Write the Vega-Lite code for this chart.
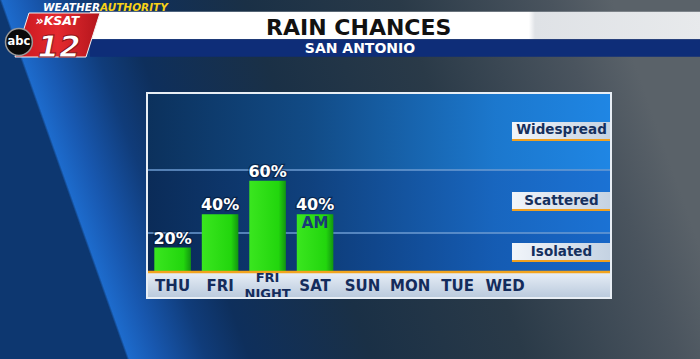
{
  "$schema": "https://vega.github.io/schema/vega-lite/v6.json",
  "width": 464,
  "height": 205,
  "autosize": {"type": "none"},
  "padding": {"left": 147, "top": 93, "right": 89, "bottom": 61},
  "background": "#13304f",
  "config": {"view": {"stroke": null}, "text": {"font": "DejaVu Sans"}},
  "datasets": {
    "days": [
      {"day": "THU", "chance": 0.2},
      {"day": "FRI", "chance": 0.4},
      {"day": "FRI NIGHT", "chance": 0.6},
      {"day": "SAT", "chance": 0.4, "note": "AM"},
      {"day": "SUN"},
      {"day": "MON"},
      {"day": "TUE"},
      {"day": "WED"}
    ],
    "bands": [
      {"band": "Isolated", "lo": 0.054, "hi": 0.2875},
      {"band": "Scattered", "lo": 0.2875, "hi": 0.665},
      {"band": "Widespread", "lo": 0.665, "hi": 1.1262}
    ],
    "one": [{"n": 1}]
  },
  "resolve": {"scale": {"x": "independent"}},
  "layer": [
    {
      "data": {"name": "one"},
      "layer": [
        {
          "mark": {"type": "rect", "fill": {"gradient": "linear", "x1": 0, "y1": 0, "x2": 0.841, "y2": -0.154, "stops": [
            {"offset": 0, "color": "#0d3770"},
            {"offset": 0.004, "color": "#1d6bcc"},
            {"offset": 0.05, "color": "#1858b0"},
            {"offset": 0.13, "color": "#103c7a"},
            {"offset": 0.2, "color": "#0e2f5c"},
            {"offset": 0.4, "color": "#1a3046"},
            {"offset": 0.65, "color": "#2a3a48"},
            {"offset": 0.9, "color": "#4a545e"},
            {"offset": 1, "color": "#5a6269"}]}},
          "encoding": {
            "x": {"datum": -32, "type": "quantitative", "scale": {"domain": [0, 100], "nice": false, "zero": false}, "axis": null},
            "x2": {"datum": 120},
            "y": {"datum": 1.70, "type": "quantitative", "scale": {"domain": [-0.1018, 1.1262], "nice": false, "zero": false}, "axis": null},
            "y2": {"datum": -0.48}
          }
        },
        {
          "mark": {"type": "rect", "fill": {"gradient": "linear", "x1": 0, "y1": 0, "x2": 1, "y2": 0, "stops": [
            {"offset": 0, "color": "#ffffff"},
            {"offset": 0.715, "color": "#ffffff"},
            {"offset": 0.725, "color": "#dfe2e6"},
            {"offset": 1, "color": "#e8eaec"}]}},
          "encoding": {
            "x": {"datum": -12.3, "type": "quantitative", "scale": {"domain": [0, 100], "nice": false, "zero": false}, "axis": null},
            "x2": {"datum": 120},
            "y": {"datum": 1.6131, "type": "quantitative", "scale": {"domain": [-0.1018, 1.1262], "nice": false, "zero": false}, "axis": null},
            "y2": {"datum": 1.4478}
          }
        },
        {
          "mark": {"type": "rect", "fill": "#0e2d78"},
          "encoding": {
            "x": {"datum": -12.3, "type": "quantitative", "scale": {"domain": [0, 100], "nice": false, "zero": false}, "axis": null},
            "x2": {"datum": 120},
            "y": {"datum": 1.4478, "type": "quantitative", "scale": {"domain": [-0.1018, 1.1262], "nice": false, "zero": false}, "axis": null},
            "y2": {"datum": 1.3436}
          }
        },
        {
          "mark": {"type": "text", "text": "RAIN CHANCES", "fontSize": 22, "fontWeight": "bold", "fill": "#111111", "align": "center", "baseline": "alphabetic"},
          "encoding": {
            "x": {"datum": 45.63, "type": "quantitative", "scale": {"domain": [0, 100], "nice": false, "zero": false}, "axis": null},
            "y": {"datum": 1.4736, "type": "quantitative", "scale": {"domain": [-0.1018, 1.1262], "nice": false, "zero": false}, "axis": null}
          }
        },
        {
          "mark": {"type": "text", "text": "SAN ANTONIO", "fontSize": 14, "fontWeight": "bold", "fill": "#ffffff", "align": "center", "baseline": "alphabetic"},
          "encoding": {
            "x": {"datum": 45.9, "type": "quantitative", "scale": {"domain": [0, 100], "nice": false, "zero": false}, "axis": null},
            "y": {"datum": 1.364, "type": "quantitative", "scale": {"domain": [-0.1018, 1.1262], "nice": false, "zero": false}, "axis": null}
          }
        },
        {
          "mark": {"type": "text", "text": "WEATHER", "fontSize": 10.5, "fontWeight": "bold", "fontStyle": "italic", "fill": "#ffffff", "align": "right", "baseline": "alphabetic"},
          "encoding": {
            "x": {"datum": -10.13, "type": "quantitative", "scale": {"domain": [0, 100], "nice": false, "zero": false}, "axis": null},
            "y": {"datum": 1.6174, "type": "quantitative", "scale": {"domain": [-0.1018, 1.1262], "nice": false, "zero": false}, "axis": null}
          }
        },
        {
          "mark": {"type": "text", "text": "AUTHORITY", "fontSize": 10.5, "fontWeight": "bold", "fontStyle": "italic", "fill": "#f7d117", "align": "left", "baseline": "alphabetic"},
          "encoding": {
            "x": {"datum": -10.13, "type": "quantitative", "scale": {"domain": [0, 100], "nice": false, "zero": false}, "axis": null},
            "y": {"datum": 1.6174, "type": "quantitative", "scale": {"domain": [-0.1018, 1.1262], "nice": false, "zero": false}, "axis": null}
          }
        },
        {
          "mark": {"type": "point", "shape": "M-0.57,-0.44L0.85,-0.44L0.57,0.44L-0.85,0.44Z", "size": 10000, "filled": true, "opacity": 1,
            "fill": {"gradient": "linear", "x1": 0, "y1": 0, "x2": 1, "y2": 0, "stops": [{"offset": 0, "color": "#c8161e"}, {"offset": 0.5, "color": "#e42a2f"}, {"offset": 1, "color": "#b3151c"}]},
            "stroke": "#f2f2f2", "strokeWidth": 1},
          "encoding": {
            "x": {"datum": -19.29, "type": "quantitative", "scale": {"domain": [0, 100], "nice": false, "zero": false}, "axis": null},
            "y": {"datum": 1.4736, "type": "quantitative", "scale": {"domain": [-0.1018, 1.1262], "nice": false, "zero": false}, "axis": null}
          }
        },
        {
          "mark": {"type": "text", "text": "»KSAT", "fontSize": 12.5, "fontWeight": "bold", "fontStyle": "italic", "fill": "#ffffff", "align": "center", "baseline": "alphabetic"},
          "encoding": {
            "x": {"datum": -19.3, "type": "quantitative", "scale": {"domain": [0, 100], "nice": false, "zero": false}, "axis": null},
            "y": {"datum": 1.5365, "type": "quantitative", "scale": {"domain": [-0.1018, 1.1262], "nice": false, "zero": false}, "axis": null}
          }
        },
        {
          "mark": {"type": "text", "text": "12", "fontSize": 31, "fontWeight": "bold", "fontStyle": "italic", "fill": "#ffffff", "stroke": "#8e0f15", "strokeWidth": 1, "align": "center", "baseline": "alphabetic"},
          "encoding": {
            "x": {"datum": -18.97, "type": "quantitative", "scale": {"domain": [0, 100], "nice": false, "zero": false}, "axis": null},
            "y": {"datum": 1.3418, "type": "quantitative", "scale": {"domain": [-0.1018, 1.1262], "nice": false, "zero": false}, "axis": null}
          }
        },
        {
          "mark": {"type": "point", "shape": "circle", "size": 720, "filled": true, "opacity": 1, "fill": "#0a0a0a", "stroke": "#9a9a9a", "strokeWidth": 1.5},
          "encoding": {
            "x": {"datum": -27.6, "type": "quantitative", "scale": {"domain": [0, 100], "nice": false, "zero": false}, "axis": null},
            "y": {"datum": 1.4317, "type": "quantitative", "scale": {"domain": [-0.1018, 1.1262], "nice": false, "zero": false}, "axis": null}
          }
        },
        {
          "mark": {"type": "text", "text": "abc", "fontSize": 11.5, "fontWeight": "bold", "fill": "#ffffff", "align": "center", "baseline": "middle"},
          "encoding": {
            "x": {"datum": -27.6, "type": "quantitative", "scale": {"domain": [0, 100], "nice": false, "zero": false}, "axis": null},
            "y": {"datum": 1.4317, "type": "quantitative", "scale": {"domain": [-0.1018, 1.1262], "nice": false, "zero": false}, "axis": null}
          }
        }
      ]
    },
    {
      "data": {"name": "days"},
      "layer": [
        {
          "data": {"name": "bands"},
          "mark": {"type": "rect"},
          "encoding": {
            "y": {"field": "lo", "type": "quantitative", "scale": {"domain": [-0.1018, 1.1262], "nice": false, "zero": false}, "axis": null},
            "y2": {"field": "hi"},
            "color": {"field": "band", "type": "nominal", "scale": {"domain": ["Isolated", "Scattered", "Widespread"], "range": ["#1766c6", "#1b72d4", "#1f86e4"]}, "legend": null}
          }
        },
        {
          "data": {"name": "one"},
          "mark": {"type": "rect", "fill": {"gradient": "linear", "x1": 0, "y1": 0, "x2": 1, "y2": 0, "stops": [
            {"offset": 0, "color": "rgba(4,16,40,0.72)"},
            {"offset": 0.35, "color": "rgba(4,16,40,0.5)"},
            {"offset": 0.75, "color": "rgba(4,16,40,0.12)"},
            {"offset": 1, "color": "rgba(4,16,40,0)"}]}},
          "encoding": {
            "y": {"datum": 0.0539, "type": "quantitative", "scale": {"domain": [-0.1018, 1.1262], "nice": false, "zero": false}, "axis": null},
            "y2": {"datum": 1.1262}
          }
        },
        {
          "data": {"name": "bands"},
          "transform": [{"filter": "datum.band != 'Isolated'"}],
          "mark": {"type": "rule", "stroke": "#6d9bd2", "strokeWidth": 1.5},
          "encoding": {
            "y": {"field": "lo", "type": "quantitative", "scale": {"domain": [-0.1018, 1.1262], "nice": false, "zero": false}, "axis": null}
          }
        },
        {
          "mark": {"type": "bar", "fill": {"gradient": "linear", "x1": 0, "y1": 0, "x2": 1, "y2": 0, "stops": [
            {"offset": 0, "color": "#3ae61f"},
            {"offset": 0.8, "color": "#22d60d"},
            {"offset": 1, "color": "#129510"}]}},
          "encoding": {
            "x": {"field": "day", "type": "nominal", "sort": null, "scale": {"domain": ["THU", "FRI", "FRI NIGHT", "SAT", "SUN", "MON", "TUE", "WED"], "paddingInner": 0.23, "paddingOuter": 1.2, "align": 0.077}, "axis": null},
            "y": {"field": "chance", "type": "quantitative", "stack": null, "scale": {"domain": [-0.1018, 1.1262], "nice": false, "zero": false}, "axis": null}
          }
        },
        {
          "data": {"name": "one"},
          "mark": {"type": "rect", "fill": {"gradient": "linear", "x1": 0, "y1": 0, "x2": 0, "y2": 1, "stops": [
            {"offset": 0, "color": "#e8eff7"},
            {"offset": 1, "color": "#b9c9dc"}]}},
          "encoding": {
            "y": {"datum": -0.1018, "type": "quantitative", "scale": {"domain": [-0.1018, 1.1262], "nice": false, "zero": false}, "axis": null},
            "y2": {"datum": 0.0539}
          }
        },
        {
          "data": {"name": "one"},
          "mark": {"type": "rule", "stroke": "#f2a41e", "strokeWidth": 2.5},
          "encoding": {
            "y": {"datum": 0.0539, "type": "quantitative", "scale": {"domain": [-0.1018, 1.1262], "nice": false, "zero": false}, "axis": null}
          }
        },
        {
          "mark": {"type": "text", "fontSize": 16, "fontWeight": "bold", "fill": "#06152f", "stroke": "#06152f", "strokeWidth": 2.5, "opacity": 0.55, "baseline": "alphabetic", "dy": -4, "align": "center"},
          "encoding": {
            "x": {"field": "day", "type": "nominal", "sort": null, "scale": {"domain": ["THU", "FRI", "FRI NIGHT", "SAT", "SUN", "MON", "TUE", "WED"], "paddingInner": 0.23, "paddingOuter": 1.2, "align": 0.077}, "axis": null},
            "y": {"field": "chance", "type": "quantitative", "scale": {"domain": [-0.1018, 1.1262], "nice": false, "zero": false}, "axis": null},
            "text": {"field": "chance", "type": "quantitative", "format": ".0%"}
          }
        },
        {
          "mark": {"type": "text", "fontSize": 16, "fontWeight": "bold", "fill": "#ffffff", "baseline": "alphabetic", "dy": -4, "align": "center"},
          "encoding": {
            "x": {"field": "day", "type": "nominal", "sort": null, "scale": {"domain": ["THU", "FRI", "FRI NIGHT", "SAT", "SUN", "MON", "TUE", "WED"], "paddingInner": 0.23, "paddingOuter": 1.2, "align": 0.077}, "axis": null},
            "y": {"field": "chance", "type": "quantitative", "scale": {"domain": [-0.1018, 1.1262], "nice": false, "zero": false}, "axis": null},
            "text": {"field": "chance", "type": "quantitative", "format": ".0%"}
          }
        },
        {
          "transform": [{"filter": "isValid(datum.note)"}],
          "mark": {"type": "text", "fontSize": 15, "fontWeight": "bold", "fill": "#1a3a78", "baseline": "top", "dy": 2, "align": "center"},
          "encoding": {
            "x": {"field": "day", "type": "nominal", "sort": null, "scale": {"domain": ["THU", "FRI", "FRI NIGHT", "SAT", "SUN", "MON", "TUE", "WED"], "paddingInner": 0.23, "paddingOuter": 1.2, "align": 0.077}, "axis": null},
            "y": {"field": "chance", "type": "quantitative", "scale": {"domain": [-0.1018, 1.1262], "nice": false, "zero": false}, "axis": null},
            "text": {"field": "note", "type": "nominal"}
          }
        },
        {
          "transform": [{"filter": "indexof(datum.day, ' ') < 0"}],
          "mark": {"type": "text", "fontSize": 15, "fontWeight": "bold", "fill": "#142c5c", "baseline": "middle", "align": "center"},
          "encoding": {
            "x": {"field": "day", "type": "nominal", "sort": null, "scale": {"domain": ["THU", "FRI", "FRI NIGHT", "SAT", "SUN", "MON", "TUE", "WED"], "paddingInner": 0.23, "paddingOuter": 1.2, "align": 0.077}, "axis": null},
            "y": {"datum": -0.027, "type": "quantitative", "scale": {"domain": [-0.1018, 1.1262], "nice": false, "zero": false}, "axis": null},
            "text": {"field": "day", "type": "nominal"}
          }
        },
        {
          "transform": [{"filter": "indexof(datum.day, ' ') >= 0"}],
          "mark": {"type": "text", "fontSize": 13, "fontWeight": "bold", "fill": "#142c5c", "baseline": "middle", "align": "center", "lineBreak": " ", "lineHeight": 15.5, "dy": -7.5},
          "encoding": {
            "x": {"field": "day", "type": "nominal", "sort": null, "scale": {"domain": ["THU", "FRI", "FRI NIGHT", "SAT", "SUN", "MON", "TUE", "WED"], "paddingInner": 0.23, "paddingOuter": 1.2, "align": 0.077}, "axis": null},
            "y": {"datum": -0.027, "type": "quantitative", "scale": {"domain": [-0.1018, 1.1262], "nice": false, "zero": false}, "axis": null},
            "text": {"field": "day", "type": "nominal"}
          }
        }
      ]
    },
    {
      "data": {"name": "bands"},
      "transform": [{"calculate": "(datum.lo + datum.hi) / 2", "as": "mid"}],
      "layer": [
        {
          "mark": {"type": "point", "shape": "M-1,-0.192H1V0.192H-1Z", "size": 9801, "filled": true, "opacity": 1,
            "fill": {"gradient": "linear", "x1": 0, "y1": 0, "x2": 1, "y2": 0, "stops": [{"offset": 0, "color": "#f1f5fa"}, {"offset": 1, "color": "#c4d2e2"}]}},
          "encoding": {
            "x": {"datum": 89.33, "type": "quantitative", "scale": {"domain": [0, 100], "nice": false, "zero": false}, "axis": null},
            "y": {"field": "mid", "type": "quantitative", "scale": {"domain": [-0.1018, 1.1262], "nice": false, "zero": false}, "axis": null}
          }
        },
        {
          "mark": {"type": "point", "shape": "M-1,0.15H1V0.192H-1Z", "size": 9801, "filled": true, "opacity": 1, "fill": "#f0a020"},
          "encoding": {
            "x": {"datum": 89.33, "type": "quantitative", "scale": {"domain": [0, 100], "nice": false, "zero": false}, "axis": null},
            "y": {"field": "mid", "type": "quantitative", "scale": {"domain": [-0.1018, 1.1262], "nice": false, "zero": false}, "axis": null}
          }
        },
        {
          "mark": {"type": "text", "fontSize": 13.5, "fontWeight": "bold", "fill": "#15305e", "baseline": "middle", "align": "center", "dy": -1},
          "encoding": {
            "x": {"datum": 89.33, "type": "quantitative", "scale": {"domain": [0, 100], "nice": false, "zero": false}, "axis": null},
            "y": {"field": "mid", "type": "quantitative", "scale": {"domain": [-0.1018, 1.1262], "nice": false, "zero": false}, "axis": null},
            "text": {"field": "band", "type": "nominal"}
          }
        },
        {
          "data": {"name": "one"},
          "mark": {"type": "rect", "fillOpacity": 0, "stroke": "#e8eef5", "strokeWidth": 2},
          "encoding": {
            "x": {"datum": 0, "type": "quantitative", "scale": {"domain": [0, 100], "nice": false, "zero": false}, "axis": null},
            "x2": {"datum": 100},
            "y": {"datum": -0.1018, "type": "quantitative", "scale": {"domain": [-0.1018, 1.1262], "nice": false, "zero": false}, "axis": null},
            "y2": {"datum": 1.1262}
          }
        }
      ]
    }
  ]
}
